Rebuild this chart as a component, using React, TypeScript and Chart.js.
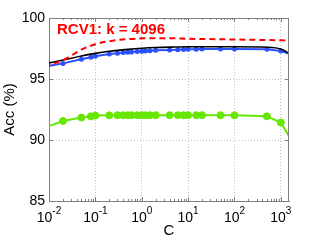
import { useEffect, useRef } from "react";
import { Chart, registerables } from "chart.js";

Chart.register(...registerables);

// C values (log axis) for the marked series; first/last points lie just outside the axis range
const cValues = [0.005, 0.02, 0.05, 0.08, 0.1, 0.2, 0.3, 0.4, 0.5, 0.6, 0.8, 1, 1.2, 1.5, 2, 4, 6, 8, 10, 15, 20, 50, 100, 500, 1000, 2000];
const blueAcc = [95.87, 96.28, 96.62, 96.78, 96.87, 97.05, 97.12, 97.17, 97.2, 97.22, 97.25, 97.28, 97.3, 97.32, 97.35, 97.38, 97.4, 97.42, 97.43, 97.44, 97.45, 97.46, 97.46, 97.43, 97.3, 96.9];
const greenAcc = [90.74, 91.56, 91.84, 91.94, 92.0, 92.02, 92.03, 92.03, 92.03, 92.03, 92.03, 92.03, 92.03, 92.03, 92.03, 92.03, 92.03, 92.03, 92.03, 92.03, 92.03, 92.03, 92.03, 91.94, 91.43, 89.5];

const blackC = [0.005, 0.01, 0.02, 0.05, 0.1, 0.2, 0.5, 1, 2, 5, 10, 100, 500, 1000, 1500, 2000];
const blackAcc = [96.02, 96.32, 96.55, 96.88, 97.1, 97.27, 97.43, 97.52, 97.58, 97.62, 97.64, 97.64, 97.6, 97.45, 97.1, 96.8];

const redC = [0.005, 0.01, 0.02, 0.05, 0.1, 0.2, 0.5, 1, 2, 5, 10, 100, 1000, 2000];
const redAcc = [95.8, 96.15, 96.55, 97.4, 97.85, 98.1, 98.27, 98.33, 98.35, 98.33, 98.3, 98.24, 98.17, 98.15];

const xTickExps = [-2, -1, 0, 1, 2, 3];
const yTicks = [85, 90, 95, 100];
const titleText = "RCV1: k = 4096";

const FONT = "'Liberation Sans', Arial, Helvetica, sans-serif";

const pairs = (xs: number[], ys: number[]) => xs.map((x, i) => ({ x, y: ys[i] }));

const decorPlugin = {
  id: "decor",
  afterDraw(chart: any) {
    const { ctx, chartArea: a, scales } = chart;
    const x = scales.x;
    const y = scales.y;
    ctx.save();
    ctx.strokeStyle = "#808080";
    ctx.lineWidth = 1;
    ctx.beginPath();
    ctx.moveTo(a.left, Math.round(a.top) + 0.5);
    ctx.lineTo(a.right, Math.round(a.top) + 0.5);
    ctx.moveTo(Math.round(a.right) - 0.5, a.top);
    ctx.lineTo(Math.round(a.right) - 0.5, a.bottom);
    // x ticks (major + minor), inside
    for (const e of xTickExps) {
      for (let m = 1; m <= 9; m++) {
        const v = m * Math.pow(10, e);
        if (v > x.max) break;
        const px = Math.round(x.getPixelForValue(v)) + 0.5;
        const len = m === 1 ? 4 : 2;
        ctx.moveTo(px, a.bottom);
        ctx.lineTo(px, a.bottom - len);
        ctx.moveTo(px, a.top);
        ctx.lineTo(px, a.top + len);
      }
    }
    for (const v of yTicks) {
      const py = Math.round(y.getPixelForValue(v)) + 0.5;
      ctx.moveTo(a.left, py);
      ctx.lineTo(a.left + 4, py);
      ctx.moveTo(a.right, py);
      ctx.lineTo(a.right - 4, py);
    }
    ctx.stroke();

    // x tick labels 10^e
    ctx.fillStyle = "#000";
    ctx.textBaseline = "alphabetic";
    ctx.textAlign = "left";
    for (const e of xTickExps) {
      const px = x.getPixelForValue(Math.pow(10, e));
      ctx.font = `14px ${FONT}`;
      const w1 = ctx.measureText("10").width;
      ctx.font = `10px ${FONT}`;
      const exp = String(e);
      const w2 = ctx.measureText(exp).width;
      const start = px - (w1 + w2) / 2;
      ctx.font = `14px ${FONT}`;
      ctx.fillText("10", start, a.bottom + 21);
      ctx.font = `10px ${FONT}`;
      ctx.fillText(exp, start + w1, a.bottom + 13);
    }

    // in-plot title
    ctx.font = `bold 15px ${FONT}`;
    ctx.fillStyle = "#ff0000";
    ctx.fillText(titleText, a.left + 8, a.top + 16);
    ctx.restore();
  },
};

export default function App() {
  const ref = useRef<HTMLCanvasElement | null>(null);
  useEffect(() => {
    if (!ref.current) return;
    const chart = new Chart(ref.current, {
      type: "line",
      data: {
        datasets: [
          {
            data: pairs(cValues, greenAcc),
            borderColor: "#66e600",
            backgroundColor: "#66e600",
            borderWidth: 2,
            pointRadius: 3.5,
            pointBorderWidth: 1,
            tension: 0,
            order: 4,
          },
          {
            data: pairs(cValues, blueAcc),
            borderColor: "#2a50ff",
            backgroundColor: "#2a50ff",
            borderWidth: 2,
            pointRadius: 2.5,
            pointBorderWidth: 0,
            tension: 0,
            order: 3,
          },
          {
            data: pairs(blackC, blackAcc),
            borderColor: "#000000",
            borderWidth: 1.6,
            pointRadius: 0,
            cubicInterpolationMode: "monotone",
            order: 2,
          },
          {
            data: pairs(redC, redAcc),
            borderColor: "#ff0000",
            borderWidth: 2,
            borderDash: [6, 4],
            pointRadius: 0,
            cubicInterpolationMode: "monotone",
            order: 1,
          },
        ],
      },
      options: {
        responsive: false,
        animation: false,
        events: [],
        layout: { padding: { top: 18, right: 30, left: 0, bottom: 0 } },
        plugins: { legend: { display: false }, tooltip: { enabled: false }, title: { display: false } },
        scales: {
          x: {
            type: "logarithmic",
            min: 0.01,
            max: 1500,
            afterBuildTicks: (s: any) => {
              s.ticks = xTickExps.map((e) => ({ value: Math.pow(10, e) }));
            },
            afterFit: (s: any) => {
              s.height = 39;
            },
            ticks: { display: false },
            grid: { color: "#c4c4c4", drawTicks: false, lineWidth: 1 },
            border: { color: "#808080", dash: [1, 2] },
            title: {
              display: true,
              text: "C",
              color: "#000",
              font: { size: 15, family: FONT },
              padding: { top: 0, bottom: 0 },
            },
          },
          y: {
            type: "linear",
            min: 85,
            max: 100,
            afterBuildTicks: (s: any) => {
              s.ticks = yTicks.map((v) => ({ value: v }));
            },
            afterFit: (s: any) => {
              s.width = 49;
            },
            ticks: { color: "#000", font: { size: 14, family: FONT }, padding: 4 },
            grid: { color: "#c4c4c4", drawTicks: false, lineWidth: 1 },
            border: { color: "#808080", dash: [1, 2] },
            title: {
              display: true,
              text: "Acc (%)",
              color: "#000",
              font: { size: 15, family: FONT },
              padding: { top: 1, bottom: 0 },
            },
          },
        },
      } as any,
      plugins: [decorPlugin],
    });
    return () => chart.destroy();
  }, []);
  return (
    <div style={{ position: "absolute", left: 0, top: 0, width: 319, height: 240, background: "#fff" }}>
      <canvas ref={ref} width={319} height={240} />
    </div>
  );
}
